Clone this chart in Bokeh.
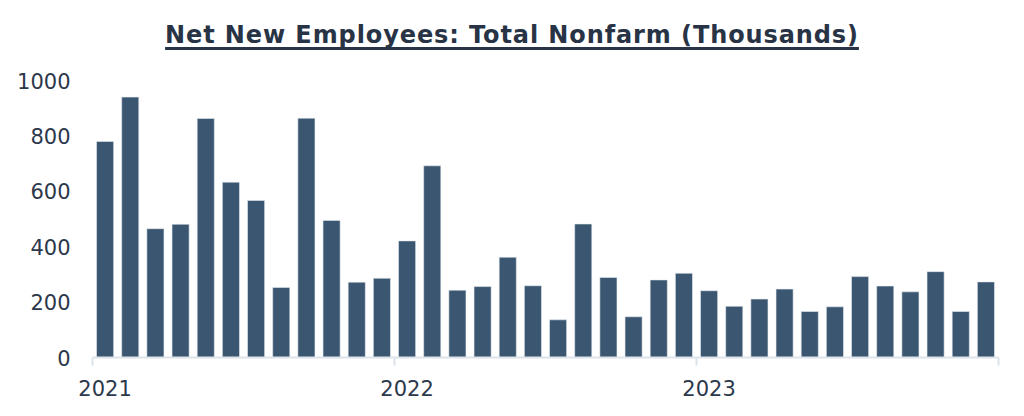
from bokeh.plotting import figure
from bokeh.models import ColumnDataSource, FixedTicker, Div, Range1d
from bokeh.layouts import column
from bokeh.embed import file_html
from bokeh.resources import INLINE

title_text = "Net New Employees: Total Nonfarm (Thousands)"
years = ["2021", "2022", "2023"]
months = list(range(36))
values = [780, 940, 465, 481, 863, 633, 567, 253, 864, 495, 272, 286,
          421, 692, 243, 256, 362, 259, 136, 482, 289, 147, 280, 304,
          241, 185, 211, 247, 166, 183, 292, 258, 237, 310, 166, 273]
y_ticks = [0, 200, 400, 600, 800, 1000]

BAR = "#3a5670"
TXT = "#2c384b"
AXIS = "#dde3ea"
FONT = "DejaVu Sans"

src = ColumnDataSource(dict(x=[m + 0.5 for m in months], top=values))

p = figure(width=1024, height=356, output_backend="svg", toolbar_location=None,
           x_range=Range1d(0, 36), y_range=Range1d(0, 1000),
           min_border_left=92, min_border_right=26, min_border_top=20, min_border_bottom=59)
p.vbar(x="x", top="top", width=0.68, source=src, fill_color=BAR, line_color="#e6ebf0", line_width=0.6)

p.grid.visible = False
p.outline_line_color = None

xa = p.xaxis[0]
year_pos = [12 * i + 0.5 for i in range(len(years))]
xa.ticker = FixedTicker(ticks=year_pos, minor_ticks=[0, 12, 24, 36])
xa.major_label_overrides = {pos: y for pos, y in zip(year_pos, years)}
xa.major_tick_line_color = None
xa.major_tick_out = 0
xa.minor_tick_in = 0
xa.minor_tick_out = 8
xa.minor_tick_line_color = AXIS
xa.minor_tick_line_width = 2
xa.axis_line_color = AXIS
xa.axis_line_width = 2
xa.major_label_standoff = 14
xa.major_label_text_font = FONT
xa.major_label_text_font_size = "21px"
xa.major_label_text_color = TXT

ya = p.yaxis[0]
ya.ticker = FixedTicker(ticks=y_ticks)
ya.axis_line_color = None
ya.major_tick_line_color = None
ya.minor_tick_line_color = None
ya.major_tick_out = 0
ya.major_label_standoff = 22
ya.major_label_text_font = FONT
ya.major_label_text_font_size = "21px"
ya.major_label_text_color = TXT

title = Div(text=f'<div style="width:1024px;text-align:center;font-family:\'DejaVu Sans\';font-weight:700;'
                 f'font-size:24px;line-height:30px;letter-spacing:0.9px;color:#283445;padding-top:20px;'
                 f'text-decoration:underline;text-decoration-thickness:2.5px;text-underline-offset:4px;'
                 f'text-decoration-skip-ink:none;">'
                 f'{title_text}</div>',
            width=1024, height=60, styles={"margin": "0", "padding": "0"})

layout = column(title, p, spacing=0)
open("out.html", "w").write(file_html(layout, INLINE))
